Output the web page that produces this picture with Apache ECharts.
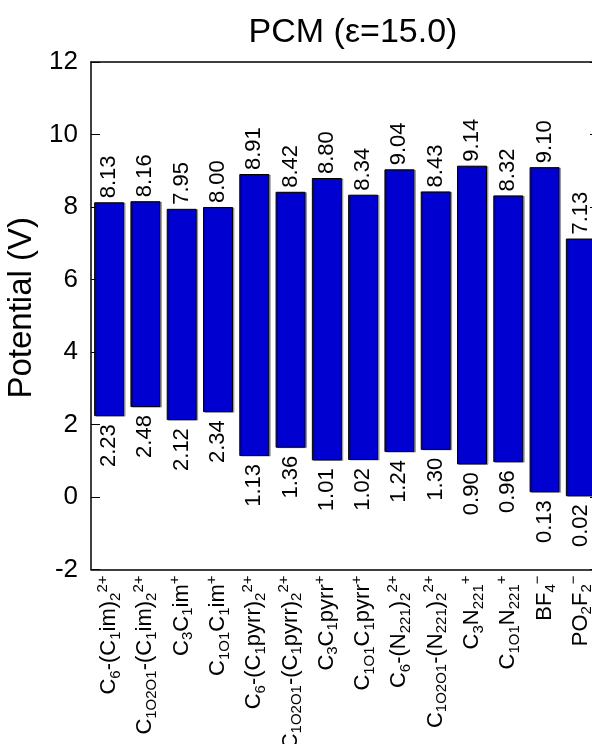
<!DOCTYPE html>
<html><head><meta charset="utf-8">
<script src="https://cdn.jsdelivr.net/npm/echarts@6/dist/echarts.min.js"></script>
<style>html,body{margin:0;padding:0;background:#fff}#c{width:592px;height:744px}</style>
</head><body><div id="c"></div>
<script>
const categories = [
  'C_{6}-(C_{1}im)_{2}^{2+}',
  'C_{1O2O1}-(C_{1}im)_{2}^{2+}',
  'C_{3}C_{1}im^{+}',
  'C_{1O1}C_{1}im^{+}',
  'C_{6}-(C_{1}pyrr)_{2}^{2+}',
  'C_{1O2O1}-(C_{1}pyrr)_{2}^{2+}',
  'C_{3}C_{1}pyrr^{+}',
  'C_{1O1}C_{1}pyrr^{+}',
  'C_{6}-(N_{221})_{2}^{2+}',
  'C_{1O2O1}-(N_{221})_{2}^{2+}',
  'C_{3}N_{221}^{+}',
  'C_{1O1}N_{221}^{+}',
  'BF_{4}^{−}',
  'PO_{2}F_{2}^{−}'
];
const highValues = [8.13, 8.16, 7.95, 8.00, 8.91, 8.42, 8.80, 8.34, 9.04, 8.43, 9.14, 8.32, 9.10, 7.13];
const lowValues  = [2.23, 2.48, 2.12, 2.34, 1.13, 1.36, 1.01, 1.02, 1.24, 1.30, 0.90, 0.96, 0.13, 0.02];
const yMin = -2, yMax = 12, yStep = 2;
const titleText = 'PCM (ε=15.0)';
const yName = 'Potential (V)';

const font = "'Liberation Sans', Arial, Helvetica, sans-serif";

function toRich(s) {
  let out = '', buf = '', i = 0;
  const flush = () => { if (buf) { out += '{m|' + buf + '}'; buf = ''; } };
  while (i < s.length) {
    const c = s[i];
    if ((c === '_' || c === '^') && s[i + 1] === '{') {
      flush();
      const j = s.indexOf('}', i);
      out += '{' + (c === '_' ? 's' : 'p') + '|' + s.slice(i + 2, j) + '}';
      i = j + 1;
    } else { buf += c; i++; }
  }
  flush();
  return out;
}

const spans = highValues.map((h, i) => +(h - lowValues[i]).toFixed(2));

const chart = echarts.init(document.getElementById('c'), null, { renderer: 'canvas' });
const axisLineStyle = { color: '#000', width: 1.5 };
chart.setOption({
  animation: false,
  textStyle: { fontFamily: font },
  title: {
    text: titleText, left: 348, top: 11, textAlign: 'center',
    textStyle: { fontSize: 34, fontWeight: 'normal', color: '#000', fontFamily: font }
  },
  grid: { left: 91, top: 62, width: 508, height: 507.5, outerBoundsMode: 'none', containLabel: false },
  xAxis: [{
    type: 'category', data: categories, position: 'bottom', boundaryGap: true,
    axisLine: { onZero: false, lineStyle: axisLineStyle },
    axisTick: { inside: true, length: 9, lineStyle: { color: '#000', width: 1 } },
    axisLabel: {
      rotate: 90, margin: 6, interval: 0, color: '#000', hideOverlap: false,
      formatter: v => toRich(v),
      rich: {
        m: { fontSize: 22, fontFamily: font, color: '#000', lineHeight: 28, verticalAlign: 'middle' },
        s: { fontSize: 15, fontFamily: font, color: '#000', lineHeight: 28, verticalAlign: 'bottom' },
        p: { fontSize: 15, fontFamily: font, color: '#000', lineHeight: 28, verticalAlign: 'top' }
      }
    },
    splitLine: { show: false }
  }, {
    type: 'category', data: categories, position: 'top', boundaryGap: true,
    axisLine: { onZero: false, lineStyle: axisLineStyle },
    axisTick: { inside: true, length: 9, lineStyle: { color: '#000', width: 1 } },
    axisLabel: { show: false },
    splitLine: { show: false }
  }],
  yAxis: [{
    type: 'value', min: yMin, max: yMax, interval: yStep, position: 'left',
    name: yName, nameLocation: 'middle', nameGap: 46,
    nameTextStyle: { fontSize: 33, color: '#000', fontFamily: font, padding: [0, 0, 0, 16] },
    axisLine: { show: true, onZero: false, lineStyle: axisLineStyle },
    axisTick: { show: true, inside: true, length: 9, lineStyle: { color: '#000', width: 1 } },
    axisLabel: { fontSize: 26, color: '#000', margin: 13, fontFamily: font },
    splitLine: { show: false }
  }, {
    type: 'value', min: yMin, max: yMax, interval: yStep, position: 'right',
    axisLine: { show: true, onZero: false, lineStyle: axisLineStyle },
    axisTick: { show: true, inside: true, length: 9, lineStyle: { color: '#000', width: 1 } },
    axisLabel: { show: false },
    splitLine: { show: false }
  }],
  series: [{
    type: 'bar', stack: 'range', data: lowValues, barWidth: 30, silent: true,
    itemStyle: { color: 'rgba(0,0,0,0)' },
    label: {
      show: true, position: 'insideTop', rotate: 90, align: 'right', verticalAlign: 'middle',
      distance: 8, fontSize: 22, color: '#000', fontFamily: font,
      formatter: p => lowValues[p.dataIndex].toFixed(2)
    }
  }, {
    type: 'bar', stack: 'range', data: spans, barWidth: 30,
    itemStyle: {
      color: '#0000d0', borderColor: '#000', borderWidth: 1,
      shadowColor: 'rgba(0,0,0,0.3)', shadowOffsetX: 1.5, shadowOffsetY: 0.5, shadowBlur: 0
    },
    label: {
      show: true, position: 'top', rotate: 90, align: 'left', verticalAlign: 'middle',
      distance: 4, fontSize: 22, color: '#000', fontFamily: font,
      formatter: p => highValues[p.dataIndex].toFixed(2)
    }
  }]
});
</script>
</body></html>
